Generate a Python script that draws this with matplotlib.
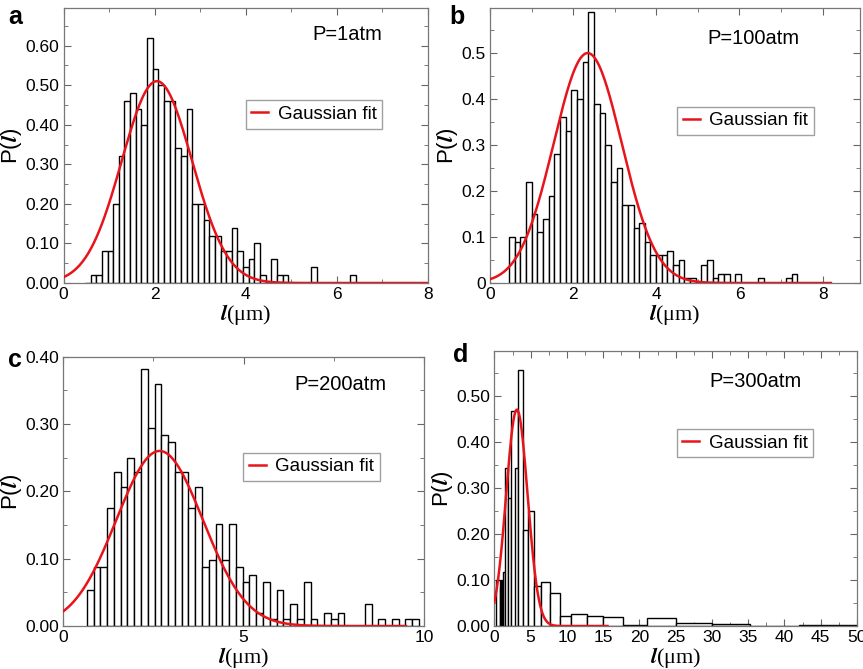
import numpy as np
import matplotlib
matplotlib.use("Agg")
import matplotlib.pyplot as plt
from matplotlib.ticker import MultipleLocator, FuncFormatter

plt.rcParams["font.family"] = ["Liberation Sans", "DejaVu Sans"]
plt.rcParams["mathtext.fontset"] = "stix"

# ── panel a : P = 1 atm ───────────────────────────────────
a_start, a_width = 0.47, 0.124
a_heights = [0.0, 0.02, 0.02, 0.08, 0.08, 0.20, 0.32, 0.46, 0.48, 0.44,
             0.40, 0.62, 0.54, 0.50, 0.46, 0.46, 0.34, 0.32, 0.44, 0.20,
             0.20, 0.16, 0.12, 0.12, 0.08, 0.08, 0.14, 0.08, 0.04, 0.06,
             0.10, 0.02, 0.0, 0.06, 0.02, 0.02, 0.0, 0.0, 0.0, 0.0,
             0.04, 0.0, 0.0, 0.0, 0.0, 0.0, 0.0, 0.02]
a_fit = dict(amp=0.51, mu=2.05, sigma=0.77, xmax=8.0)

# ── panel b : P = 100 atm ─────────────────────────────────
b_start, b_width = 0.46, 0.136
b_heights = [0.10, 0.09, 0.10, 0.22, 0.15, 0.11, 0.14, 0.19, 0.28, 0.36,
             0.33, 0.42, 0.40, 0.48, 0.59, 0.39, 0.37, 0.30, 0.22, 0.25,
             0.17, 0.17, 0.12, 0.13, 0.09, 0.06, 0.06, 0.06, 0.07, 0.04,
             0.05, 0.01, 0.01, 0.0, 0.04, 0.05, 0.01, 0.02, 0.02, 0.0,
             0.02, 0.0, 0.0, 0.0, 0.01, 0.0, 0.0, 0.0, 0.0, 0.01, 0.02]
b_fit = dict(amp=0.50, mu=2.35, sigma=0.82, xmax=8.2)

# ── panel c : P = 200 atm ─────────────────────────────────
c_start, c_width = 0.65, 0.188
c_heights = [0.054, 0.087, 0.087, 0.175, 0.228, 0.207, 0.25, 0.228, 0.381, 0.294,
             0.359, 0.283, 0.273, 0.228, 0.228, 0.175, 0.207, 0.087, 0.098, 0.152,
             0.098, 0.152, 0.087, 0.066, 0.076, 0.02, 0.066, 0.01, 0.054, 0.01,
             0.033, 0.01, 0.066, 0.01, 0.0, 0.02, 0.01, 0.02, 0.0, 0.0,
             0.0, 0.033, 0.0, 0.01, 0.0, 0.01, 0.0, 0.01, 0.01]
c_fit = dict(amp=0.26, mu=2.67, sigma=1.2, xmax=9.5)

# ── panel d : P = 300 atm (uneven bins) ───────────────────
d_left = [0.22, 0.78, 0.88, 0.98, 1.08, 1.22, 1.46, 1.85, 2.35, 2.85,
          3.28, 3.97, 4.66, 5.5, 6.45, 7.7, 9.05, 10.6, 12.7, 15.0,
          17.7, 21.0, 25.0, 30.0, 35.3, 42.0]
d_right = [0.78, 0.88, 0.98, 1.08, 1.22, 1.46, 1.85, 2.35, 3.2, 3.28,
           3.97, 4.66, 5.5, 6.45, 7.7, 9.05, 10.6, 12.7, 15.0, 17.7,
           21.0, 25.0, 30.0, 35.3, 42.0, 50.0]
d_heights = [0.10, 0.085, 0.10, 0.09, 0.082, 0.118, 0.344, 0.278, 0.467, 0.344,
             0.557, 0.209, 0.249, 0.087, 0.095, 0.071, 0.022, 0.027, 0.022, 0.019,
             0.003, 0.017, 0.007, 0.005, 0.0, 0.003]
d_fit = dict(amp=0.47, mu=3.1, sigma=1.48, xmax=15.6)

FW, FH = 863, 669
fig = plt.figure(figsize=(FW / 100, FH / 100), dpi=100)


def px_axes(l, t, r, b):
    return fig.add_axes([l / FW, 1 - b / FH, (r - l) / FW, (b - t) / FH])


def gauss(fit, ax):
    x = np.linspace(0, fit["xmax"], 400)
    y = fit["amp"] * np.exp(-(x - fit["mu"]) ** 2 / (2 * fit["sigma"] ** 2))
    ax.plot(x, y, color="#e8141b", lw=1.8, label="Gaussian fit", zorder=3)


def style(ax, xlim, ylim, xmaj, xmin, ymaj, ymin, yfmt):
    ax.set_xlim(*xlim)
    ax.set_ylim(*ylim)
    ax.xaxis.set_major_locator(MultipleLocator(xmaj))
    ax.xaxis.set_minor_locator(MultipleLocator(xmin))
    ax.yaxis.set_major_locator(MultipleLocator(ymaj))
    ax.yaxis.set_minor_locator(MultipleLocator(ymin))
    ax.yaxis.set_major_formatter(FuncFormatter(yfmt))
    ax.tick_params(which="both", direction="in", top=True, right=True,
                   color="#666666", labelsize=12.5, pad=3)
    ax.tick_params(which="major", length=5)
    ax.tick_params(which="minor", length=3)
    for s in ax.spines.values():
        s.set_color("#777777")
        s.set_linewidth(0.9)
    ax.set_xlabel(r"$\mathbfit{l}$(μm)", fontsize=16, family="Liberation Serif", labelpad=0)
    ax.set_ylabel(r"P($\mathbfit{l}$)", fontsize=16, labelpad=1)


def two_dec(v, pos):
    return f"{v:.2f}"


def one_dec(v, pos):
    return "0" if abs(v) < 1e-9 else f"{v:.1f}"


def legend(ax, x0, ytop, ptext, px, py):
    ax.legend(loc="upper left", bbox_to_anchor=(x0, ytop), fontsize=13.5,
              frameon=True, fancybox=False, edgecolor="#888888",
              handlelength=0.9, handletextpad=0.5, borderpad=0.3,
              borderaxespad=0)
    ax.text(px, py, ptext, transform=ax.transAxes, fontsize=14.5,
            ha="center", va="center")


bar_kw = dict(align="edge", color="white", edgecolor="black", linewidth=1.0, zorder=2)

# a
ax = px_axes(63.5, 8, 428, 283)
ax.bar(a_start + np.arange(len(a_heights)) * a_width, a_heights, width=a_width, **bar_kw)
gauss(a_fit, ax)
style(ax, (0, 8), (0, 0.695), 2, 1, 0.1, 0.05, two_dec)
legend(ax, 0.50, 0.665, "P=1atm", 0.78, 0.905)

# b
ax = px_axes(490, 8, 860, 283)
ax.bar(b_start + np.arange(len(b_heights)) * b_width, b_heights, width=b_width, **bar_kw)
gauss(b_fit, ax)
style(ax, (0, 8.9), (0, 0.598), 2, 1, 0.1, 0.05, one_dec)
legend(ax, 0.506, 0.641, "P=100atm", 0.712, 0.89)

# c
ax = px_axes(63.3, 356.7, 424, 626)
ax.bar(c_start + np.arange(len(c_heights)) * c_width, c_heights, width=c_width, **bar_kw)
gauss(c_fit, ax)
style(ax, (0, 10), (0, 0.40), 5, 2.5, 0.1, 0.05, two_dec)
legend(ax, 0.499, 0.6435, "P=200atm", 0.767, 0.895)

# d
ax = px_axes(494.4, 350.7, 857, 626)
ax.bar(d_left, d_heights, width=np.array(d_right) - np.array(d_left), **bar_kw)
gauss(d_fit, ax)
style(ax, (0, 50), (0, 0.598), 5, 2.5, 0.1, 0.05, two_dec)
legend(ax, 0.503, 0.7156, "P=300atm", 0.719, 0.887)

for lbl, x, y in [("a", 15, 17), ("b", 457, 17), ("c", 15, 360), ("d", 461, 355)]:
    fig.text(x / FW, 1 - y / FH, lbl, fontsize=18, fontweight="bold",
             ha="center", va="center")

fig.savefig("out.png", dpi=100)
